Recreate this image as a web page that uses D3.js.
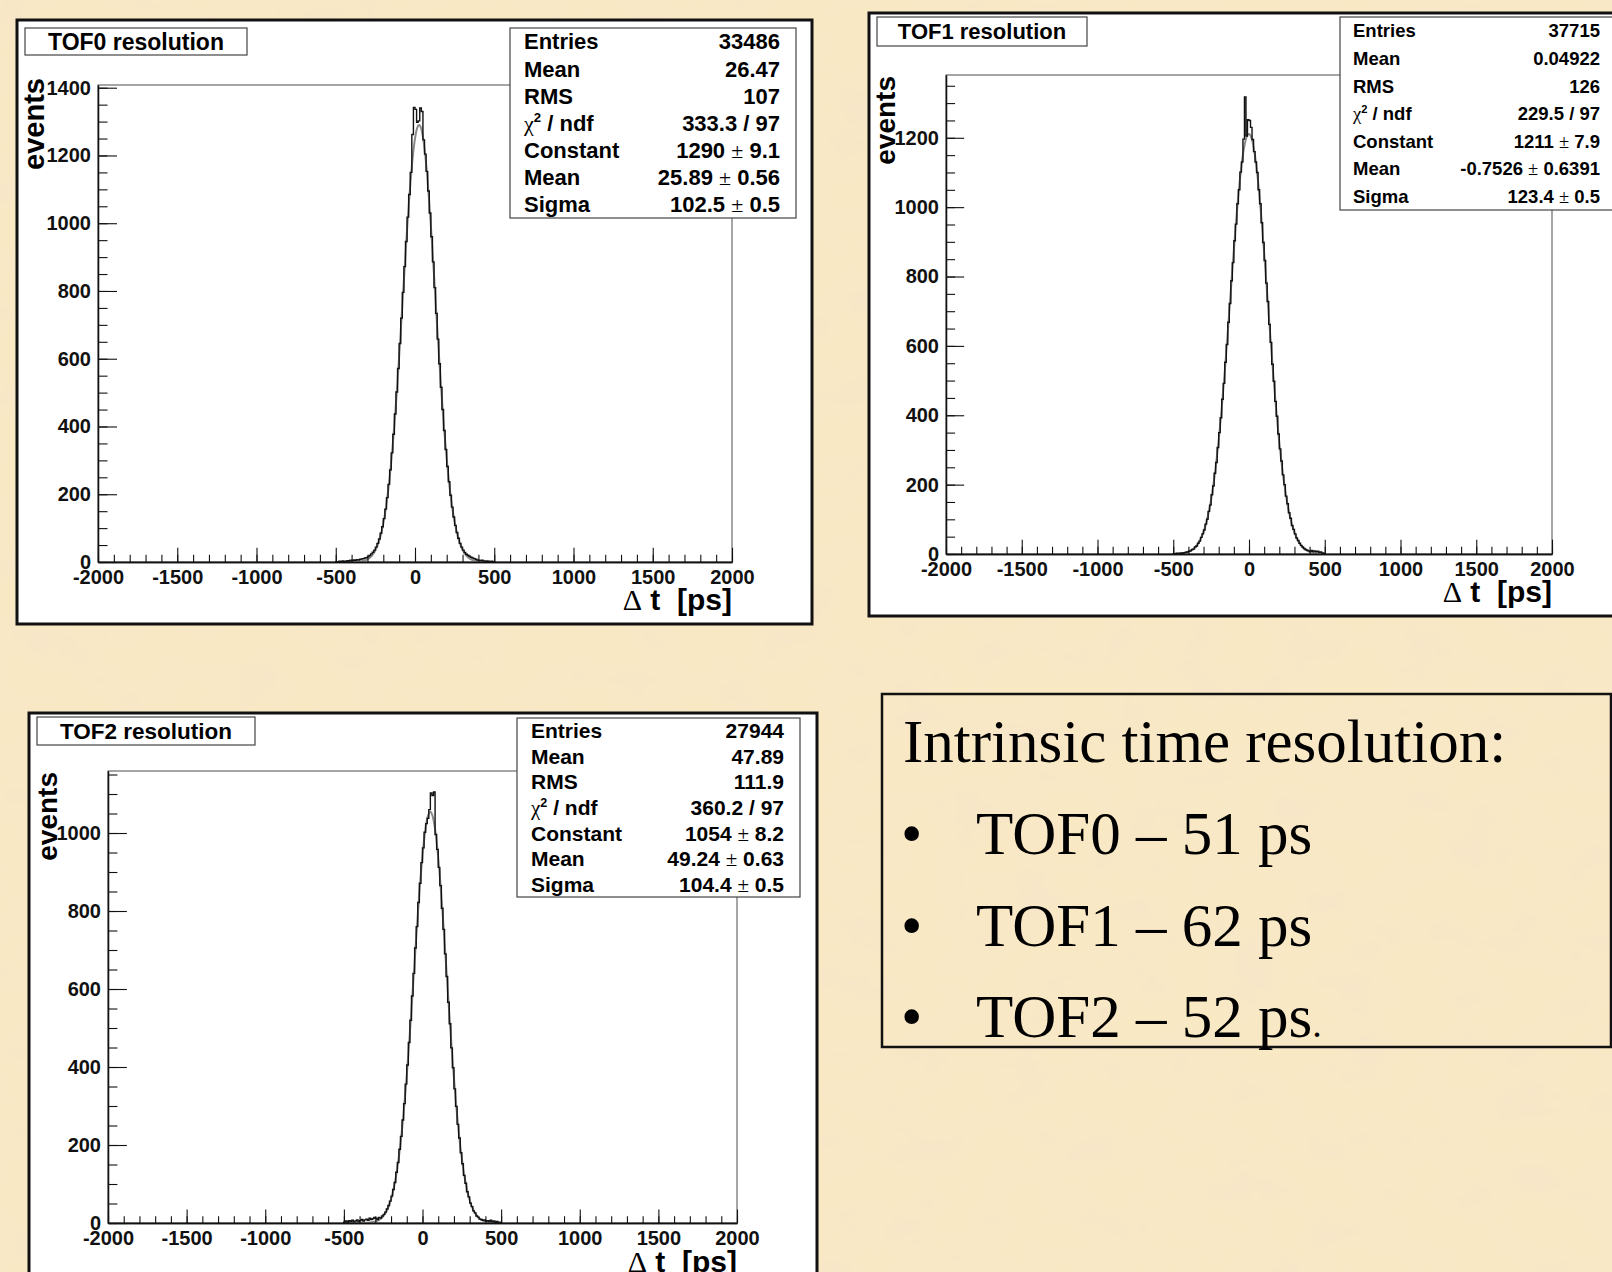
<!DOCTYPE html>
<html>
<head>
<meta charset="utf-8">
<script src="https://cdn.jsdelivr.net/npm/d3@7"></script>
<style>
body { margin: 0; background: #f6e2b8; }
svg { display: block; }
text { font-family: "Liberation Sans", Arial, sans-serif; }
</style>
</head>
<body>
<div id="chart-area"></div>
<script>
/*
*    TOF resolution histograms
*/

var titles = ["TOF0 resolution", "TOF1 resolution", "TOF2 resolution"];

// histogram bins: 10 ps wide, starting at -500 ps (all other bins are empty)
var binStart = -500, binWidth = 10;

var tof0Counts = [
    1, 0, 2, 1, 3, 2, 2, 4, 3, 5,
    4, 6, 5, 7, 6, 8, 9, 10, 12, 13,
    16, 19, 24, 29, 35, 44, 55, 68, 85, 104,
    128, 156, 190, 229, 272, 322, 377, 437, 502, 571,
    645, 720, 796, 872, 946, 1018, 1085, 1150, 1262, 1342,
    1336, 1298, 1302, 1340, 1330, 1246, 1204, 1153, 1095, 1030,
    960, 886, 810, 734, 658, 585, 516, 450, 388, 332,
    282, 237, 197, 162, 133, 108, 87, 70, 55, 44,
    35, 28, 23, 20, 17, 14, 12, 10, 8, 6,
    5, 4, 5, 3, 2, 3, 2, 1, 2, 1
];
var tof1Counts = [
    1, 1, 2, 1, 2, 3, 2, 4, 5, 6,
    8, 9, 13, 14, 20, 23, 31, 37, 48, 58,
    69, 86, 100, 123, 141, 171, 196, 233, 264, 307,
    350, 393, 446, 492, 553, 604, 668, 722, 788, 840,
    903, 951, 1010, 1050, 1101, 1130, 1196, 1318, 1205, 1252,
    1250, 1230, 1195, 1160, 1130, 1100, 1050, 1010, 955, 898,
    846, 781, 728, 662, 610, 547, 498, 440, 397, 346,
    303, 268, 228, 200, 167, 145, 119, 103, 82, 71,
    58, 46, 39, 31, 25, 20, 16, 13, 11, 9,
    8, 10, 7, 9, 6, 8, 5, 6, 3, 2
];
var tof2Counts = [
    3, 5, 2, 6, 4, 7, 3, 5, 8, 4,
    6, 9, 5, 8, 10, 7, 12, 9, 11, 14,
    12, 9, 14, 13, 18, 22, 28, 36, 45, 56,
    69, 86, 104, 130, 155, 189, 222, 264, 306, 356,
    405, 463, 520, 582, 640, 705, 760, 822, 871, 924,
    962, 1002, 1024, 1038, 1060, 1103, 1096, 1105, 996, 958,
    912, 865, 807, 753, 690, 632, 566, 511, 449, 398,
    344, 299, 253, 218, 180, 152, 122, 102, 80, 67,
    51, 42, 31, 26, 18, 15, 10, 9, 7, 8,
    5, 6, 4, 7, 3, 5, 2, 4, 1, 2
];

// gaussian fit parameters: constant, mean, sigma
var tof0Fit = [1290, 25.89, 102.5];
var tof1Fit = [1211, -0.7526, 123.4];
var tof2Fit = [1054, 49.24, 104.4];

var statLabels = ["Entries", "Mean", "RMS", "chi2", "Constant", "Mean", "Sigma"];
var tof0Stats = ["33486", "26.47", "107", "333.3 / 97", "1290 ± 9.1", "25.89 ± 0.56", "102.5 ± 0.5"];
var tof1Stats = ["37715", "0.04922", "126", "229.5 / 97", "1211 ± 7.9", "-0.7526 ± 0.6391", "123.4 ± 0.5"];
var tof2Stats = ["27944", "47.89", "111.9", "360.2 / 97", "1054 ± 8.2", "49.24 ± 0.63", "104.4 ± 0.5"];

var xTicks = [-2000, -1500, -1000, -500, 0, 500, 1000, 1500, 2000];
var tof0YTicks = [0, 200, 400, 600, 800, 1000, 1200, 1400];
var tof1YTicks = [0, 200, 400, 600, 800, 1000, 1200];
var tof2YTicks = [0, 200, 400, 600, 800, 1000];

var summaryTitle = "Intrinsic time resolution:";
var summaryLines = ["TOF0 – 51 ps", "TOF1 – 62 ps", "TOF2 – 52 ps"];

var panels = [
    { title: titles[0], counts: tof0Counts, fit: tof0Fit, stats: tof0Stats, yTicks: tof0YTicks, yMax: 1408,
      frame: [17, 20, 812, 624], plot: [98, 85, 732, 562],
      titleBox: [25, 28, 247, 55], titleSize: 23,
      statBox: [510, 28, 796, 218], statX: [524, 780], statSize: 22,
      yTitleX: 44, yTitleY: 78, yTitleSize: 29, xTitleY: 610 },
    { title: titles[1], counts: tof1Counts, fit: tof1Fit, stats: tof1Stats, yTicks: tof1YTicks, yMax: 1381,
      frame: [869, 13, 1630, 616], plot: [946, 75, 1552, 554],
      titleBox: [877, 17, 1087, 46], titleSize: 22,
      statBox: [1340, 17, 1630, 210], statX: [1353, 1600], statSize: 18.5,
      yTitleX: 895, yTitleY: 76, yTitleSize: 28, xTitleY: 602 },
    { title: titles[2], counts: tof2Counts, fit: tof2Fit, stats: tof2Stats, yTicks: tof2YTicks, yMax: 1159,
      frame: [29, 713, 817, 1290], plot: [108, 771, 737, 1223],
      titleBox: [37, 717, 255, 745], titleSize: 22.5,
      statBox: [517, 718, 800, 897], statX: [531, 784], statSize: 21,
      yTitleX: 57, yTitleY: 772, yTitleSize: 28, xTitleY: 1272 }
];

var svg = d3.select("#chart-area").append("svg")
    .attr("width", 1612)
    .attr("height", 1272);

// parchment background
var defs = svg.append("defs");
var paper = defs.append("filter").attr("id", "paper")
    .attr("x", 0).attr("y", 0).attr("width", "100%").attr("height", "100%");
paper.append("feTurbulence")
    .attr("type", "fractalNoise")
    .attr("baseFrequency", "0.018 0.024")
    .attr("numOctaves", 4)
    .attr("seed", 11);
paper.append("feColorMatrix")
    .attr("type", "matrix")
    .attr("values", "0 0 0 0 0.93  0 0 0 0 0.80  0 0 0 0 0.58  2.1 0 0 0 -0.82");

svg.append("rect").attr("width", 1612).attr("height", 1272).attr("fill", "#f9e8c4");
svg.append("rect").attr("width", 1612).attr("height", 1272).attr("filter", "url(#paper)");

panels.forEach((p) => {
    var g = svg.append("g");

    g.append("rect")
        .attr("x", p.frame[0]).attr("y", p.frame[1])
        .attr("width", p.frame[2] - p.frame[0]).attr("height", p.frame[3] - p.frame[1])
        .attr("fill", "white").attr("stroke", "#111").attr("stroke-width", 3);

    var x = d3.scaleLinear().domain([-2000, 2000]).range([p.plot[0], p.plot[2]]);
    var y = d3.scaleLinear().domain([0, p.yMax]).range([p.plot[3], p.plot[1]]);
    var plotW = p.plot[2] - p.plot[0], plotH = p.plot[3] - p.plot[1];

    // plot frame
    g.append("rect")
        .attr("x", p.plot[0]).attr("y", p.plot[1])
        .attr("width", plotW).attr("height", plotH)
        .attr("fill", "none").attr("stroke", "#777").attr("stroke-width", 1.3);

    // gaussian fit from the fitted parameters
    var fitPts = d3.range(-500, 500.1, 2).map((t) => [t, p.fit[0] * Math.exp(-0.5 * Math.pow((t - p.fit[1]) / p.fit[2], 2))]);
    g.append("path")
        .attr("d", d3.line().x((d) => x(d[0])).y((d) => y(d[1])).curve(d3.curveMonotoneX)(fitPts))
        .attr("fill", "none").attr("stroke", "#8a8a8a").attr("stroke-width", 2);

    // histogram outline
    var pts = p.counts.map((c, i) => [binStart + i * binWidth, c]);
    pts.unshift([binStart, 0]);
    pts.push([binStart + p.counts.length * binWidth, p.counts[p.counts.length - 1]]);
    pts.push([binStart + p.counts.length * binWidth, 0]);
    var histLine = d3.line()
        .x((d) => x(d[0]))
        .y((d) => y(d[1]))
        .curve(d3.curveStepAfter);
    g.append("path")
        .attr("d", histLine(pts))
        .attr("fill", "none").attr("stroke", "#111").attr("stroke-width", 1.4);

    // axes (ROOT style, ticks pointing inwards)
    g.append("g").attr("transform", "translate(0," + p.plot[3] + ")")
        .call(d3.axisBottom(x).tickValues(xTicks).tickSizeInner(-0.03 * plotH).tickSizeOuter(0)
            .tickPadding(8).tickFormat((d) => String(d)));
    g.append("g").attr("transform", "translate(0," + p.plot[3] + ")")
        .call(d3.axisBottom(x).tickValues(d3.range(-2000, 2001, 100)).tickSizeInner(-0.015 * plotH)
            .tickSizeOuter(0).tickFormat(""));
    g.append("g").attr("transform", "translate(" + p.plot[0] + ",0)")
        .call(d3.axisLeft(y).tickValues(p.yTicks).tickSizeInner(-0.03 * plotW).tickSizeOuter(0)
            .tickPadding(7).tickFormat((d) => String(d)));
    g.append("g").attr("transform", "translate(" + p.plot[0] + ",0)")
        .call(d3.axisLeft(y).tickValues(d3.range(0, p.yMax, 50)).tickSizeInner(-0.015 * plotW)
            .tickSizeOuter(0).tickFormat(""));
    g.selectAll(".domain").attr("stroke", "#111").attr("stroke-width", 1.3);
    g.selectAll(".tick line").attr("stroke", "#111").attr("stroke-width", 1.1);
    g.selectAll(".tick text")
        .attr("font-size", 20).attr("font-weight", "bold").attr("fill", "#111")
        .style("font-family", "'Liberation Sans', Arial, sans-serif");

    // axis titles
    g.append("text")
        .attr("transform", "translate(" + p.yTitleX + "," + p.yTitleY + ") rotate(-90)")
        .attr("text-anchor", "end")
        .attr("font-size", p.yTitleSize).attr("font-weight", "bold")
        .text("events");
    var xt = g.append("text")
        .attr("x", p.plot[2]).attr("y", p.xTitleY)
        .attr("text-anchor", "end")
        .attr("font-size", 30)
        .style("white-space", "pre");
    xt.append("tspan").style("font-family", "'Liberation Serif', serif").text("Δ");
    xt.append("tspan").attr("font-weight", "bold").text(" t  [ps]");

    // title box
    g.append("rect")
        .attr("x", p.titleBox[0]).attr("y", p.titleBox[1])
        .attr("width", p.titleBox[2] - p.titleBox[0]).attr("height", p.titleBox[3] - p.titleBox[1])
        .attr("fill", "white").attr("stroke", "#444").attr("stroke-width", 1.2);
    g.append("text")
        .attr("x", (p.titleBox[0] + p.titleBox[2]) / 2)
        .attr("y", (p.titleBox[1] + p.titleBox[3]) / 2 + p.titleSize * 0.36)
        .attr("text-anchor", "middle")
        .attr("font-size", p.titleSize).attr("font-weight", "bold")
        .text(p.title);

    // statistics box
    g.append("rect")
        .attr("x", p.statBox[0]).attr("y", p.statBox[1])
        .attr("width", p.statBox[2] - p.statBox[0]).attr("height", p.statBox[3] - p.statBox[1])
        .attr("fill", "white").attr("stroke", "#444").attr("stroke-width", 1.2);
    var rowH = (p.statBox[3] - p.statBox[1]) / statLabels.length;
    statLabels.forEach((lab, i) => {
        var by = p.statBox[1] + rowH * (i + 0.5) + p.statSize * 0.36;
        var lt = g.append("text").attr("x", p.statX[0]).attr("y", by)
            .attr("font-size", p.statSize).attr("font-weight", "bold");
        if (lab === "chi2") {
            lt.append("tspan").attr("font-weight", "normal")
                .style("font-family", "'Liberation Serif', serif").text("χ");
            lt.append("tspan").attr("font-size", p.statSize * 0.6).attr("dy", -p.statSize * 0.4).text("2");
            lt.append("tspan").attr("dy", p.statSize * 0.4).text(" / ndf");
        } else {
            lt.text(lab);
        }
        var vt = g.append("text").attr("x", p.statX[1]).attr("y", by)
            .attr("text-anchor", "end")
            .attr("font-size", p.statSize).attr("font-weight", "bold");
        var parts = p.stats[i].split("±");
        vt.append("tspan").text(parts[0]);
        if (parts.length > 1) {
            vt.append("tspan").attr("font-weight", "normal")
                .style("font-family", "'Liberation Serif', serif").text("±");
            vt.append("tspan").text(parts[1]);
        }
    });
});

// summary box
svg.append("rect")
    .attr("x", 882).attr("y", 694)
    .attr("width", 729).attr("height", 353)
    .attr("fill", "none").attr("stroke", "#111").attr("stroke-width", 2.5);

svg.append("text")
    .attr("x", 903).attr("y", 762)
    .attr("font-size", 61)
    .style("font-family", "'Liberation Serif', 'Times New Roman', serif")
    .text(summaryTitle);

summaryLines.forEach((line, i) => {
    var by = 854 + i * 91.5;
    svg.append("text")
        .attr("x", 901).attr("y", by)
        .attr("font-size", 61)
        .style("font-family", "'Liberation Serif', 'Times New Roman', serif")
        .text("•");
    var t = svg.append("text")
        .attr("x", 976).attr("y", by)
        .attr("font-size", 61)
        .style("font-family", "'Liberation Serif', 'Times New Roman', serif")
        .text(line);
    if (i === summaryLines.length - 1) {
        t.append("tspan").attr("font-size", 38).text(".");
    }
});
</script>
</body>
</html>
